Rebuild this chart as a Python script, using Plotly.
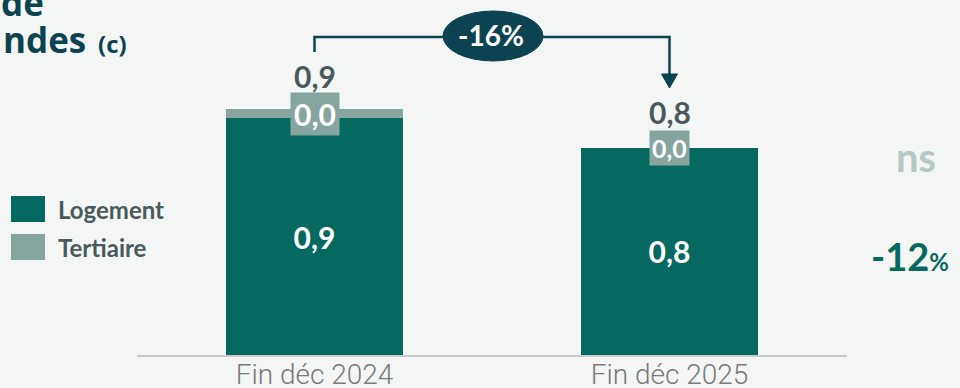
import plotly.graph_objects as go

# Data
categories = ["Fin déc 2024", "Fin déc 2025"]
series_names = ["Logement", "Tertiaire"]
logement = [0.88, 0.77]
tertiaire = [0.035, 0.0]
totals = [l + t for l, t in zip(logement, tertiaire)]
change_total = "-16%"
side_notes = ["ns", "-12"]
title_lines = ["de", "ndes"]
title_note = "(c)"

# Palette
BG = "#f4f6f5"
C_LOG = "#066960"
C_TER = "#87a59f"
C_DARK = "#0c4350"
C_LBL = "#4a5a5c"
FONT = "Lato"
TITLE_FONT = "Open Sans"

W, H = 960, 388
L, R, T, B = 137, 113, 0, 33
YMAX = 1.32


def fmt(v):
    return f"{v:.1f}".replace(".", ",")


def px_x(px):
    return (px - L) / (W - L - R)


def px_y(py):
    return (H - B - py) / (H - T - B)


fig = go.Figure()
fig.add_trace(go.Bar(
    x=categories, y=logement, name=series_names[0], marker_color=C_LOG,
    marker_line_width=0, width=0.5,
    text=[fmt(v) for v in logement], textposition="inside",
    insidetextanchor="middle",
    textfont=dict(family=FONT, size=30, color="white", weight="bold"),
))
fig.add_trace(go.Bar(
    x=categories, y=tertiaire, name=series_names[1], marker_color=C_TER,
    marker_line_width=0, width=0.5, textposition="none",
))

annotations = []
shapes = []

# Tertiaire value boxes and totals above the bars
ter_sizes = [30, 25]
ter_pads = [3, 2]
tot_shift = [33, 36]
for i, cat in enumerate(categories):
    annotations.append(dict(
        x=cat, y=logement[i] + tertiaire[i] / 2, xref="x", yref="y",
        text=f"<b>{fmt(tertiaire[i])}</b>", showarrow=False,
        font=dict(family=FONT, size=ter_sizes[i], color="white"),
        bgcolor=C_TER, borderpad=ter_pads[i], yanchor="middle",
    ))
    annotations.append(dict(
        x=cat, y=totals[i], xref="x", yref="y", yshift=tot_shift[i],
        text=f"<b>{fmt(totals[i])}</b>", showarrow=False,
        font=dict(family=FONT, size=30, color=C_LBL), yanchor="middle",
    ))

# Bracket from first total to second total with arrowhead
y_top = px_y(37)
y_left = px_y(52)
y_arrow = px_y(74)
y_tip = px_y(88)
x0, x1 = px_x(314.5), px_x(669.5)
shapes.append(dict(
    type="path", xref="paper", yref="paper",
    path=f"M {x0} {y_left} L {x0} {y_top} L {x1} {y_top} L {x1} {y_arrow}",
    line=dict(color=C_DARK, width=2.5),
))
hw = 8 / (W - L - R)
shapes.append(dict(
    type="path", xref="paper", yref="paper",
    path=f"M {x1 - hw} {y_arrow} L {x1 + hw} {y_arrow} L {x1} {y_tip} Z",
    fillcolor=C_DARK, line=dict(color=C_DARK, width=1),
))
shapes.append(dict(
    type="circle", xref="paper", yref="paper",
    x0=px_x(443), x1=px_x(543), y0=px_y(61), y1=px_y(11),
    fillcolor=C_DARK, line=dict(color=C_DARK, width=1),
))
annotations.append(dict(
    x=px_x(491), y=px_y(35), xref="paper", yref="paper",
    text=f"<b>{change_total}</b>", showarrow=False,
    font=dict(family=FONT, size=28, color="white"),
    xanchor="center", yanchor="middle",
))

# Side notes
annotations.append(dict(
    x=px_x(916), y=px_y(157), xref="paper", yref="paper",
    text=f"<b>{side_notes[0]}</b>", showarrow=False,
    font=dict(family=FONT, size=40, color="#b5c8c4"),
    xanchor="center", yanchor="middle",
))
annotations.append(dict(
    x=px_x(951), y=px_y(256), xref="paper", yref="paper",
    text=f"<b>{side_notes[1]}<span style='font-size:24px'>%</span></b>",
    showarrow=False,
    font=dict(family=FONT, size=38, color=C_LOG),
    xanchor="right", yanchor="middle",
))

# Legend
leg_colors = [C_LOG, C_TER]
for k, (name, col) in enumerate(zip(series_names, leg_colors)):
    top = 196 + k * 38
    shapes.append(dict(
        type="rect", xref="paper", yref="paper",
        x0=px_x(11), x1=px_x(45), y0=px_y(top + 26), y1=px_y(top),
        fillcolor=col, line=dict(width=0),
    ))
    annotations.append(dict(
        x=px_x(56), y=px_y(top + 13), xref="paper", yref="paper",
        text=f"<b>{name}</b>", showarrow=False,
        font=dict(family=FONT, size=24, color=C_LBL),
        xanchor="left", yanchor="middle",
    ))

# Title fragments at the top-left edge
annotations.append(dict(
    x=px_x(46), y=px_y(3), xref="paper", yref="paper",
    text=f"<b>{title_lines[0]}</b>", showarrow=False,
    font=dict(family=TITLE_FONT, size=35, color=C_DARK),
    xanchor="right", yanchor="middle",
))
annotations.append(dict(
    x=px_x(88), y=px_y(40), xref="paper", yref="paper",
    text=f"<b>{title_lines[1]}</b>", showarrow=False,
    font=dict(family=TITLE_FONT, size=35, color=C_DARK),
    xanchor="right", yanchor="middle",
))
annotations.append(dict(
    x=px_x(96), y=px_y(44), xref="paper", yref="paper",
    text=f"<b>{title_note}</b>", showarrow=False,
    font=dict(family=TITLE_FONT, size=24, color=C_DARK),
    xanchor="left", yanchor="middle",
))

fig.update_layout(
    width=W, height=H,
    margin=dict(l=L, r=R, t=T, b=B, pad=0, autoexpand=False),
    paper_bgcolor=BG, plot_bgcolor=BG,
    barmode="stack", showlegend=False,
    separators=", ",
    xaxis=dict(
        range=[-0.5, 1.5], showgrid=False, zeroline=False,
        showline=True, linecolor="#c8c8c8", linewidth=2,
        ticks="", tickfont=dict(family="Roboto", size=28, color="#7a7a7a",
                                weight=300),
        ticklabelstandoff=-7,
        automargin=False, fixedrange=True,
    ),
    yaxis=dict(
        range=[0, YMAX], visible=False, fixedrange=True, automargin=False,
    ),
    shapes=shapes, annotations=annotations,
)

fig.write_html("out.html", config=dict(displayModeBar=False))
